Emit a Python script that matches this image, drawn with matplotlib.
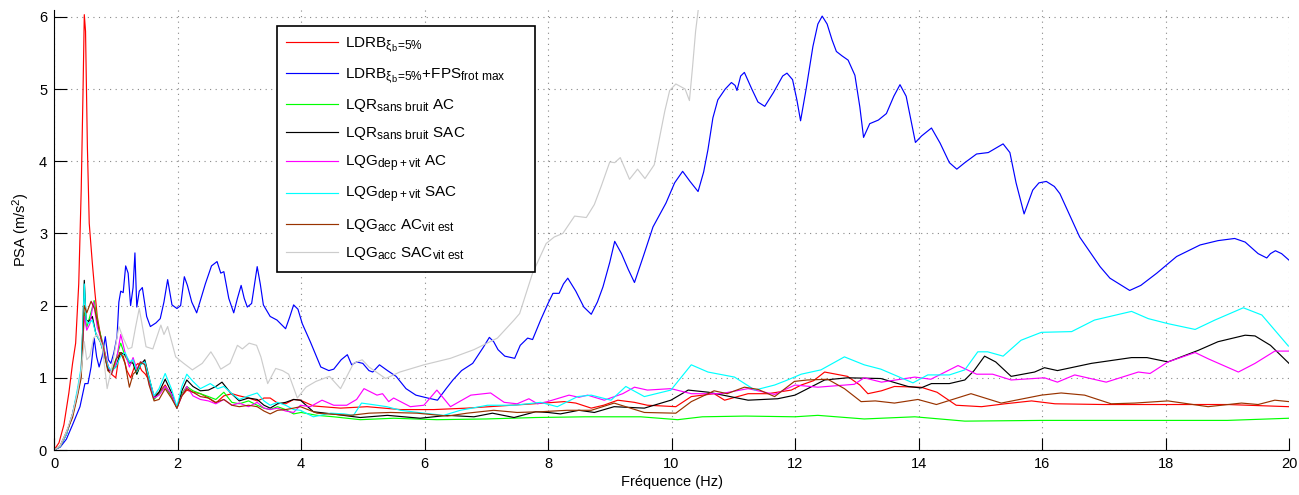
import matplotlib
matplotlib.use("Agg")
import matplotlib.pyplot as plt
import matplotlib._mathtext as mathtext_impl

plt.rcParams["font.family"] = ["Liberation Sans", "DejaVu Sans"]
plt.rcParams["mathtext.fontset"] = "custom"
plt.rcParams["mathtext.rm"] = "Liberation Sans"
plt.rcParams["mathtext.it"] = "Liberation Sans:italic"
plt.rcParams["mathtext.default"] = "regular"
# MATLAB subscripts are a bit larger than matplotlib's default
mathtext_impl.SHRINK_FACTOR = 0.78

# ---- data (frequency in Hz, PSA in m/s^2) ----
f_ldrb = [0, 0.08, 0.16, 0.24, 0.30, 0.35, 0.40, 0.44, 0.47, 0.49, 0.51, 0.54, 0.57, 0.62, 0.66,
          0.70, 0.76, 0.82, 0.88, 0.93, 1.0, 1.06, 1.12, 1.18, 1.24, 1.30, 1.36, 1.42, 1.48, 1.55,
          1.62, 1.70, 1.80, 1.90, 1.99, 2.07, 2.15, 2.25, 2.37, 2.50, 2.62, 2.75, 2.88, 3.0, 3.15,
          3.29, 3.40, 3.50, 3.62, 3.75, 3.88, 3.99, 4.2, 4.64, 5.07, 5.61, 6.15, 6.69, 7.23, 7.77,
          8.26, 8.45, 8.70, 8.9, 9.13, 9.4, 9.61, 9.85, 10.07, 10.32, 10.69, 10.86, 11.24, 11.56,
          11.94, 12.10, 12.30, 12.48, 12.85, 13.05, 13.18, 13.40, 13.61, 14.04, 14.30, 14.61, 15.02,
          15.40, 15.83, 16.21, 17.0, 18.0, 19.0, 20.0]
psa_ldrb = [0, 0.1, 0.35, 0.79, 1.2, 1.48, 2.3, 3.6, 5.0, 6.03, 5.8, 4.2, 3.14, 2.59, 2.2,
            1.85, 1.55, 1.35, 1.15, 1.05, 1.0, 1.35, 1.3, 1.1, 1.0, 1.15, 1.2, 1.1, 1.05, 0.95,
            0.75, 0.8, 0.9, 0.75, 0.6, 0.75, 0.83, 0.8, 0.78, 0.72, 0.65, 0.75, 0.78, 0.75, 0.72,
            0.68, 0.72, 0.72, 0.65, 0.64, 0.70, 0.69, 0.61, 0.58, 0.60, 0.56, 0.56, 0.58, 0.61, 0.64,
            0.67, 0.65, 0.58, 0.62, 0.69, 0.66, 0.62, 0.61, 0.60, 0.74, 0.78, 0.69, 0.78, 0.78,
            0.83, 0.90, 0.96, 1.08, 1.02, 0.9, 0.78, 0.82, 0.88, 0.87, 0.80, 0.62, 0.60,
            0.64, 0.68, 0.64, 0.63, 0.63, 0.63, 0.60]

f_fps = [0, 0.1, 0.2, 0.3, 0.42, 0.5, 0.55, 0.6, 0.65, 0.69, 0.73, 0.78, 0.83, 0.88, 0.92, 0.97,
         1.02, 1.05, 1.08, 1.12, 1.16, 1.20, 1.24, 1.28, 1.31, 1.34, 1.38, 1.43, 1.50, 1.56, 1.65,
         1.72, 1.78, 1.84, 1.91, 1.99, 2.05, 2.11, 2.16, 2.23, 2.31, 2.45, 2.55, 2.64, 2.70, 2.75,
         2.83, 2.91, 2.97, 3.03, 3.08, 3.13, 3.20, 3.29, 3.34, 3.39, 3.50, 3.61, 3.75, 3.82, 3.88,
         3.95, 4.02, 4.15, 4.32, 4.45, 4.53, 4.65, 4.75, 4.82, 4.90, 5.0, 5.1, 5.16, 5.27, 5.4,
         5.54, 5.7, 5.86, 6.05, 6.21, 6.35, 6.46, 6.6, 6.78, 6.95, 7.05, 7.12, 7.19, 7.3, 7.46,
         7.55, 7.67, 7.75, 7.88, 8.0, 8.08, 8.18, 8.25, 8.32, 8.45, 8.58, 8.70, 8.8, 8.89, 9.0,
         9.08, 9.19, 9.3, 9.40, 9.55, 9.70, 9.91, 10.05, 10.18, 10.3, 10.43, 10.52, 10.59, 10.67,
         10.75, 10.87, 10.97, 11.03, 11.06, 11.12, 11.18, 11.3, 11.4, 11.51, 11.65, 11.80, 11.87,
         11.96, 12.03, 12.09, 12.18, 12.29, 12.37, 12.44, 12.52, 12.60, 12.67, 12.76, 12.86, 12.97,
         13.05, 13.11, 13.21, 13.35, 13.48, 13.60, 13.70, 13.80, 13.95, 14.05, 14.21, 14.35, 14.50,
         14.62, 14.75, 14.94, 15.13, 15.37, 15.48, 15.58, 15.71, 15.85, 15.95, 16.07, 16.20, 16.29,
         16.45, 16.61, 16.94, 17.1, 17.42, 17.6, 17.86, 18.18, 18.56, 18.85, 19.12, 19.29, 19.50,
         19.64, 19.70, 19.78, 19.88, 20.0]
psa_fps = [0, 0.04, 0.15, 0.35, 0.6, 0.92, 0.92, 1.15, 1.55, 1.29, 1.15, 1.3, 1.57, 1.25, 1.2, 1.35,
           1.57, 2.05, 2.2, 2.18, 2.55, 2.45, 2.0, 2.25, 2.73, 1.98, 2.2, 2.25, 1.85, 1.71, 1.76,
           1.82, 2.05, 2.36, 2.01, 1.96, 2.0, 2.40, 2.28, 2.05, 1.90, 2.3, 2.55, 2.61, 2.45, 2.47,
           2.1, 1.90, 2.1, 2.28, 2.1, 1.98, 2.03, 2.54, 2.3, 2.01, 1.85, 1.80, 1.68, 1.85, 2.01,
           1.95, 1.75, 1.5, 1.15, 1.10, 1.12, 1.25, 1.32, 1.18, 1.22, 1.2, 1.1, 1.08, 1.18, 1.1,
           1.02, 0.85, 0.76, 0.72, 0.69, 0.85, 0.97, 1.1, 1.20, 1.42, 1.56, 1.5, 1.39, 1.3, 1.27,
           1.45, 1.55, 1.53, 1.8, 2.03, 2.17, 2.17, 2.3, 2.38, 2.2, 1.98, 1.88, 2.05, 2.26, 2.6,
           2.89, 2.72, 2.5, 2.32, 2.7, 3.09, 3.42, 3.7, 3.86, 3.72, 3.58, 3.85, 4.16, 4.6,
           4.85, 5.0, 5.09, 5.05, 4.98, 5.18, 5.23, 5.0, 4.82, 4.76, 4.95, 5.18, 5.22,
           5.13, 4.85, 4.56, 5.0, 5.59, 5.9, 6.01, 5.9, 5.68, 5.52, 5.46, 5.40, 5.19,
           4.75, 4.33, 4.52, 4.57, 4.66, 4.9, 5.06, 4.9, 4.26, 4.35, 4.46, 4.25, 3.98,
           3.89, 3.98, 4.10, 4.12, 4.24, 4.12, 3.7, 3.27, 3.6, 3.70, 3.72, 3.65, 3.55,
           3.25, 2.95, 2.54, 2.38, 2.21, 2.28, 2.45, 2.68, 2.84, 2.90, 2.93, 2.88, 2.72,
           2.66, 2.72, 2.76, 2.72, 2.63]

f_lqr_ac = [0, 0.1, 0.2, 0.3, 0.38, 0.44, 0.49, 0.53, 0.58, 0.65, 0.72, 0.80, 0.87, 0.93, 1.0, 1.08,
            1.15, 1.22, 1.28, 1.34, 1.40, 1.47, 1.54, 1.62, 1.70, 1.80, 1.90, 1.99, 2.07, 2.15, 2.25,
            2.37, 2.50, 2.62, 2.75, 2.88, 3.0, 3.15, 3.29, 3.40, 3.50, 3.62, 3.75, 3.88, 4.0, 4.26,
            4.53, 4.96, 5.5, 6.2, 7.0, 7.8, 8.6, 9.5, 10.10, 10.5, 11.2, 12.0, 12.37, 13.12, 13.94,
            14.75, 16.0, 17.5, 19.0, 20.0]
psa_lqr_ac = [0, 0.05, 0.22, 0.48, 0.78, 1.05, 1.9, 1.7, 1.85, 2.07, 1.7, 1.45, 1.15, 1.08, 1.25, 1.48,
              1.3, 1.2, 1.22, 1.05, 1.2, 1.22, 0.95, 0.7, 0.78, 0.88, 0.75, 0.58, 0.78, 0.88, 0.82,
              0.78, 0.74, 0.70, 0.80, 0.66, 0.64, 0.68, 0.62, 0.58, 0.56, 0.60, 0.56, 0.50, 0.52, 0.48,
              0.46, 0.42, 0.44, 0.42, 0.43, 0.45, 0.46, 0.46, 0.42, 0.46, 0.47, 0.46, 0.48, 0.43, 0.46,
              0.40, 0.41, 0.41, 0.41, 0.44]

f_lqr_sac = [0, 0.1, 0.2, 0.3, 0.38, 0.44, 0.47, 0.49, 0.52, 0.56, 0.62, 0.68, 0.75, 0.82, 0.88, 0.93,
             1.0, 1.08, 1.15, 1.22, 1.28, 1.34, 1.40, 1.47, 1.54, 1.62, 1.70, 1.80, 1.90, 1.99, 2.07,
             2.15, 2.25, 2.37, 2.50, 2.62, 2.72, 2.85, 3.0, 3.15, 3.29, 3.40, 3.50, 3.62, 3.75, 3.88,
             3.99, 4.2, 4.5, 4.96, 5.4, 5.93, 6.37, 6.80, 7.1, 7.45, 7.8, 8.0, 8.2, 8.5, 8.75, 9.07,
             9.56, 9.99, 10.27, 10.6, 11.24, 11.72, 12.0, 12.48, 12.85, 13.39, 13.83, 14.04, 14.21,
             14.5, 14.75, 14.90, 15.07, 15.25, 15.50, 15.88, 16.04, 16.25, 16.80, 17.45, 17.7, 18.04,
             18.53, 18.85, 19.29, 19.45, 19.7, 20.0]
psa_lqr_sac = [0, 0.05, 0.22, 0.5, 0.8, 1.1, 1.8, 2.35, 1.8, 1.78, 1.85, 1.6, 1.5, 1.3, 1.1, 1.1,
               1.15, 1.35, 1.32, 1.22, 1.2, 1.05, 1.18, 1.25, 1.0, 0.72, 0.8, 0.98, 0.8, 0.58, 0.82,
               0.97, 0.88, 0.82, 0.83, 0.88, 0.94, 0.80, 0.68, 0.72, 0.70, 0.62, 0.58, 0.64, 0.66, 0.70,
               0.69, 0.53, 0.50, 0.45, 0.48, 0.44, 0.48, 0.46, 0.51, 0.45, 0.53, 0.52, 0.50, 0.55, 0.52, 0.60,
               0.58, 0.69, 0.83, 0.80, 0.69, 0.71, 0.76, 0.97, 1.0, 0.99, 0.88, 0.86, 0.92,
               0.92, 0.97, 1.1, 1.30, 1.22, 1.02, 1.08, 1.14, 1.10, 1.20, 1.28, 1.28, 1.22,
               1.38, 1.50, 1.59, 1.58, 1.45, 1.20]

f_lqg_ac = [0, 0.1, 0.2, 0.3, 0.38, 0.44, 0.49, 0.53, 0.58, 0.64, 0.70, 0.78, 0.86, 0.93, 1.0, 1.08,
            1.15, 1.22, 1.28, 1.34, 1.40, 1.47, 1.54, 1.62, 1.70, 1.80, 1.90, 1.99, 2.07, 2.15, 2.25,
            2.37, 2.50, 2.62, 2.75, 2.88, 3.0, 3.15, 3.29, 3.40, 3.50, 3.62, 3.75, 3.88, 3.99, 4.15,
            4.34, 4.53, 4.74, 4.9, 5.02, 5.23, 5.32, 5.42, 5.50, 5.77, 5.99, 6.20, 6.42, 6.75, 7.07,
            7.29, 7.50, 7.69, 7.83, 7.99, 8.34, 8.5, 8.64, 8.91, 9.21, 9.40, 9.61, 9.99, 10.32, 10.80,
            11.24, 11.67, 12.0, 12.37, 12.96, 13.12, 13.4, 13.94, 14.2, 14.64, 14.94, 15.2, 15.50,
            16.04, 16.25, 16.53, 17.04, 17.56, 17.75, 18.04, 18.48, 18.7, 19.18, 19.45, 19.77, 20.0]
psa_lqg_ac = [0, 0.05, 0.22, 0.5, 0.8, 1.1, 1.85, 1.66, 1.75, 2.05, 1.7, 1.5, 1.2, 1.05, 1.2, 1.6,
              1.35, 1.15, 1.28, 1.12, 1.22, 1.2, 0.92, 0.72, 0.76, 0.88, 0.78, 0.58, 0.75, 0.88, 0.75,
              0.70, 0.68, 0.64, 0.70, 0.62, 0.65, 0.60, 0.66, 0.58, 0.56, 0.58, 0.54, 0.52, 0.62, 0.60,
              0.69, 0.62, 0.62, 0.70, 0.85, 0.76, 0.78, 0.67, 0.72, 0.60, 0.62, 0.83, 0.60, 0.76, 0.79,
              0.66, 0.64, 0.71, 0.64, 0.67, 0.76, 0.73, 0.76, 0.69, 0.78, 0.87, 0.83, 0.85, 0.78, 0.78,
              0.85, 0.77, 0.90, 0.87, 0.91, 1.0, 0.94, 1.01, 0.98, 1.17, 1.05, 1.05, 0.97,
              1.0, 0.94, 1.04, 0.94, 1.08, 1.06, 1.22, 1.35, 1.26, 1.08, 1.20, 1.37, 1.37]

f_lqg_sac = [0, 0.1, 0.2, 0.3, 0.38, 0.44, 0.47, 0.49, 0.52, 0.56, 0.62, 0.68, 0.75, 0.82, 0.88, 0.93,
             1.0, 1.08, 1.15, 1.22, 1.28, 1.34, 1.40, 1.47, 1.54, 1.62, 1.70, 1.80, 1.90, 1.99, 2.07,
             2.15, 2.25, 2.37, 2.53, 2.65, 2.75, 2.88, 3.0, 3.15, 3.29, 3.40, 3.50, 3.62, 3.75, 3.88,
             3.99, 4.20, 4.48, 4.70, 4.85, 4.98, 5.15, 5.39, 5.61, 5.99, 6.31, 6.58, 7.02, 7.45, 7.88,
             8.15, 8.48, 8.70, 9.02, 9.26, 9.56, 9.99, 10.15, 10.32, 10.59, 11.02, 11.35, 11.67, 11.85,
             12.10, 12.42, 12.80, 13.12, 13.39, 13.91, 14.15, 14.5, 14.75, 14.96, 15.12, 15.37, 15.66,
             15.99, 16.48, 16.85, 17.45, 17.72, 18.04, 18.48, 18.80, 19.26, 19.56, 19.99]
psa_lqg_sac = [0, 0.05, 0.22, 0.5, 0.85, 1.15, 1.8, 2.3, 1.8, 1.75, 1.8, 1.6, 1.5, 1.3, 1.15, 1.1,
               1.15, 1.3, 1.35, 1.22, 1.25, 1.08, 1.18, 1.22, 1.0, 0.75, 0.85, 1.06, 0.85, 0.6, 0.88,
               1.05, 0.95, 0.85, 0.92, 0.85, 0.88, 0.78, 0.70, 0.75, 0.79, 0.68, 0.62, 0.66, 0.62, 0.56,
               0.55, 0.46, 0.51, 0.50, 0.48, 0.65, 0.63, 0.60, 0.55, 0.51, 0.48, 0.55, 0.62, 0.62, 0.66,
               0.60, 0.74, 0.76, 0.69, 0.88, 0.74, 0.83, 1.0, 1.18, 1.08, 1.01, 0.83, 0.90, 0.96,
               1.05, 1.11, 1.29, 1.18, 1.12, 0.93, 1.04, 1.04, 1.11, 1.36, 1.36, 1.30, 1.52,
               1.63, 1.64, 1.80, 1.92, 1.82, 1.75, 1.67, 1.80, 1.97, 1.87, 1.44]

f_acc_ac = [0, 0.1, 0.2, 0.3, 0.38, 0.44, 0.49, 0.53, 0.60, 0.66, 0.72, 0.80, 0.87, 0.93, 1.0, 1.08,
            1.15, 1.22, 1.28, 1.34, 1.40, 1.47, 1.54, 1.62, 1.70, 1.80, 1.90, 1.99, 2.07, 2.15, 2.25,
            2.37, 2.50, 2.62, 2.75, 2.88, 3.0, 3.15, 3.29, 3.40, 3.50, 3.62, 3.75, 3.88, 3.99, 4.26,
            4.80, 5.1, 5.45, 5.88, 6.37, 6.69, 7.12, 7.5, 7.88, 8.31, 8.7, 9.07, 9.56, 10.07, 10.32,
            10.69, 10.9, 11.18, 11.4, 11.67, 11.99, 12.2, 12.53, 12.8, 13.07, 13.3, 13.61, 13.99,
            14.29, 14.85, 15.34, 15.99, 16.31, 16.69, 17.12, 17.5, 18.04, 18.69, 19.23, 19.5, 19.77, 20.0]
psa_acc_ac = [0, 0.06, 0.25, 0.45, 0.75, 1.0, 2.0, 1.9, 2.06, 1.95, 1.7, 1.4, 1.1, 1.05, 1.25, 1.35,
              1.2, 0.87, 1.05, 1.1, 1.22, 1.18, 0.9, 0.68, 0.7, 0.85, 0.72, 0.58, 0.75, 0.85, 0.8,
              0.74, 0.72, 0.66, 0.70, 0.62, 0.60, 0.62, 0.60, 0.54, 0.50, 0.55, 0.56, 0.58, 0.60, 0.51,
              0.48, 0.51, 0.52, 0.51, 0.47, 0.51, 0.55, 0.52, 0.53, 0.55, 0.55, 0.65, 0.52, 0.51, 0.67,
              0.82, 0.78, 0.87, 0.84, 0.74, 0.95, 0.97, 0.98, 0.85, 0.67, 0.68, 0.65, 0.70,
              0.63, 0.78, 0.65, 0.76, 0.79, 0.76, 0.64, 0.65, 0.68, 0.60, 0.65, 0.63, 0.69, 0.67]

f_acc_sac = [0, 0.1, 0.2, 0.3, 0.38, 0.44, 0.49, 0.53, 0.58, 0.64, 0.70, 0.78, 0.86, 0.95, 1.05, 1.12,
             1.20, 1.26, 1.32, 1.38, 1.49, 1.60, 1.73, 1.78, 1.84, 1.97, 2.10, 2.24, 2.40, 2.54, 2.62,
             2.70, 2.85, 2.97, 3.05, 3.16, 3.28, 3.35, 3.46, 3.59, 3.70, 3.80, 3.94, 4.08, 4.24, 4.46,
             4.64, 4.85, 4.99, 5.10, 5.37, 5.60, 5.99, 6.42, 6.80, 7.18, 7.45, 7.54, 7.75, 7.97, 8.10,
             8.24, 8.43, 8.62, 8.75, 8.86, 9.0, 9.08, 9.17, 9.32, 9.45, 9.57, 9.72, 9.89, 9.97, 10.07,
             10.22, 10.29, 10.34, 10.39, 10.44, 10.5]
psa_acc_sac = [0, 0.06, 0.25, 0.5, 0.8, 1.1, 1.5, 1.25, 1.3, 1.55, 1.6, 1.45, 0.85, 1.2, 1.71, 1.55,
               1.4, 1.42, 1.7, 1.96, 1.43, 1.40, 1.73, 1.6, 1.71, 1.29, 1.2, 1.11, 1.2, 1.36, 1.25,
               1.12, 1.2, 1.45, 1.40, 1.48, 1.45, 1.29, 0.92, 1.13, 1.1, 1.05, 0.72, 0.87, 0.95, 1.02,
               0.85, 1.2, 1.25, 1.15, 0.99, 1.08, 1.18, 1.27, 1.39, 1.55, 1.80, 1.89, 2.45, 2.86, 2.95,
               3.0, 3.24, 3.22, 3.40, 3.65, 3.99, 3.98, 4.05, 3.75, 3.89, 3.76, 3.95, 4.69, 4.98, 5.07,
               5.0, 4.84, 5.3, 5.8, 6.15, 6.6]

SERIES = [
    (f_ldrb, psa_ldrb, "#ff0000", r"LDRB$_{\xi_b\!=\!5\%}$"),
    (f_fps, psa_fps, "#0000ff", r"LDRB$_{\xi_b\!=\!5\%}$+FPS$_{frot\ max}$"),
    (f_lqr_ac, psa_lqr_ac, "#00ff00", r"LQR$_{sans\ bruit}$ AC"),
    (f_lqr_sac, psa_lqr_sac, "#000000", r"LQR$_{sans\ bruit}$ SAC"),
    (f_lqg_ac, psa_lqg_ac, "#ff00ff", r"LQG$_{dep+vit}$ AC"),
    (f_lqg_sac, psa_lqg_sac, "#00ffff", r"LQG$_{dep+vit}$ SAC"),
    (f_acc_ac, psa_acc_ac, "#993300", r"LQG$_{acc}$ AC$_{vit\ est}$"),
    (f_acc_sac, psa_acc_sac, "#cccccc", r"LQG$_{acc}$ SAC$_{vit\ est}$"),
]

fig = plt.figure(figsize=(12.99, 4.95), dpi=100)
ax = fig.add_axes([0.0416, 0.0909, 0.9507, 0.8897])

for f, psa, col, lab in SERIES:
    ax.plot(f, psa, color=col, lw=0.85, label=lab)

ax.set_xlim(0, 20)
ax.set_ylim(0, 6.1)
ax.set_xticks(range(0, 21, 2))
ax.set_yticks(range(0, 7))
ax.grid(True, linestyle=(0, (1, 4)), color="#888888", lw=0.8)
ax.spines["top"].set_visible(False)
ax.spines["right"].set_visible(False)
ax.tick_params(direction="in", length=9, width=0.8, labelsize=10.5, pad=5)
ax.set_xlabel("Fréquence (Hz)", fontsize=10.5, labelpad=3)
ax.set_ylabel("PSA (m/s$^2$)", fontsize=10.5, labelpad=6)

# expand mode gives the legend box MATLAB's wider right margin
leg = ax.legend(loc="upper left", bbox_to_anchor=(0.1806, 0.3, 0.2089, 0.663), mode="expand",
                borderaxespad=0, fontsize=11, handlelength=3.4, handletextpad=0.45,
                labelspacing=0.75, borderpad=0.6, fancybox=False, framealpha=1,
                edgecolor="black")
leg.get_frame().set_linewidth(1.2)

fig.savefig("out.png", dpi=100)
